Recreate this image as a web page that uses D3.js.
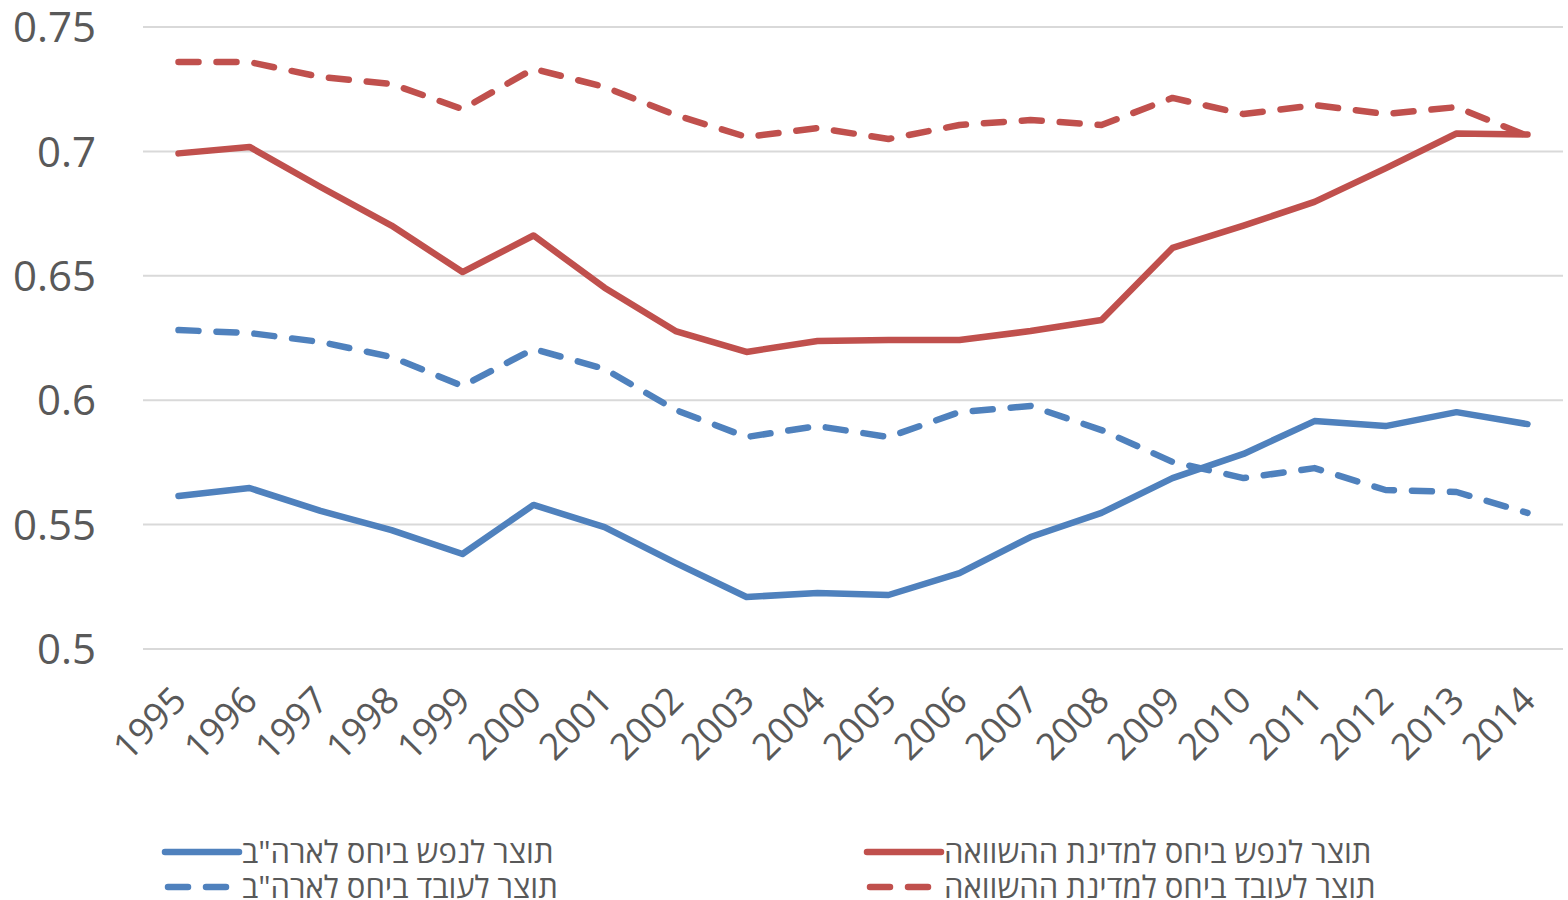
<!DOCTYPE html>
<html>
<head>
<meta charset="UTF-8">
<script src="https://d3js.org/d3.v7.min.js"></script>
<style>
    body { margin: 0; background: #fff; }
    text { font-family: "Open Sans", "DejaVu Sans", sans-serif; fill: #595959; }
</style>
</head>
<body>
<svg id="chart"></svg>
<script>
// DATA
var years = ["1995","1996","1997","1998","1999","2000","2001","2002","2003","2004",
             "2005","2006","2007","2008","2009","2010","2011","2012","2013","2014"];

var perCapitaUS = [0.5613,0.5645,0.5553,0.5476,0.538,0.5577,0.5488,0.5344,0.5207,0.5223,
                   0.5215,0.5303,0.5448,0.5545,0.5685,0.5782,0.5914,0.5894,0.595,0.5902];
var perWorkerUS = [0.628,0.6268,0.6232,0.6172,0.6055,0.6204,0.6124,0.5959,0.585,0.5894,
                   0.585,0.595,0.5975,0.5878,0.575,0.5685,0.5725,0.5637,0.5629,0.5545];
var perCapitaCmp = [0.699,0.7016,0.6855,0.670,0.6513,0.666,0.645,0.6276,0.6192,0.6236,
                    0.624,0.624,0.6276,0.632,0.661,0.670,0.6795,0.693,0.707,0.7066];
var perWorkerCmp = [0.7357,0.7357,0.7297,0.7269,0.7168,0.733,0.7257,0.7144,0.7056,0.7092,
                    0.7048,0.7104,0.7124,0.7104,0.7213,0.7148,0.7184,0.7148,0.7176,0.706];

var yTicks = [0.5, 0.55, 0.6, 0.65, 0.7, 0.75];

var series = [
    {name: "תוצר לנפש ביחס לארה\"ב",            values: perCapitaUS,  color: "#4F81BD", dashed: false},
    {name: "תוצר לנפש ביחס למדינת ההשוואה",     values: perCapitaCmp, color: "#C0504D", dashed: false},
    {name: "תוצר לעובד ביחס לארה\"ב",           values: perWorkerUS,  color: "#4F81BD", dashed: true},
    {name: "תוצר לעובד ביחס למדינת ההשוואה",    values: perWorkerCmp, color: "#C0504D", dashed: true}
];

// LAYOUT
var width = 1568, height = 900;
var plotLeft = 143, plotRight = 1563, plotTop = 26.5, plotBottom = 648.5;
var dash = "20 18";

var svg = d3.select("#chart")
            .attr("width", width)
            .attr("height", height);

var x = d3.scaleBand()
          .domain(years)
          .range([plotLeft, plotRight]);

var y = d3.scaleLinear()
          .domain([0.5, 0.75])
          .range([plotBottom, plotTop]);

// gridlines + y labels
var yAxis = svg.append("g")
               .attr("transform", `translate(${plotLeft},0)`)
               .call(d3.axisLeft(y)
                        .tickValues(yTicks)
                        .tickSize(-(plotRight - plotLeft))
                        .tickPadding(47)
                        .tickFormat(d => String(+d.toFixed(2))));
yAxis.select(".domain").remove();
yAxis.selectAll("line").attr("stroke", "#d9d9d9").attr("stroke-width", 2);
yAxis.selectAll("text")
     .style("font-size", "42px")
     .attr("fill", "#595959")
     .attr("dy", "0.36em");

// x labels, rotated
var xAxis = svg.append("g")
               .attr("transform", `translate(0,${plotBottom})`)
               .call(d3.axisBottom(x).tickSize(0).tickPadding(0));
xAxis.select(".domain").remove();
xAxis.selectAll("text")
     .style("font-size", "37px")
     .attr("fill", "#595959")
     .attr("text-anchor", "end")
     .attr("dy", null)
     .attr("y", 0)
     .attr("transform", "translate(10,54) rotate(-45)");

// lines
var line = d3.line()
             .x((d, i) => x(years[i]) + x.bandwidth() / 2)
             .y(d => y(d));

var drawOrder = [series[1], series[0], series[2], series[3]];
svg.append("g")
   .selectAll("path")
   .data(drawOrder)
   .enter().append("path")
   .attr("d", d => line(d.values))
   .attr("fill", "none")
   .attr("stroke", d => d.color)
   .attr("stroke-width", 6.5)
   .attr("stroke-linejoin", "round")
   .attr("stroke-linecap", "round")
   .attr("stroke-dasharray", d => d.dashed ? dash : null);

// legend
var legendX = [165, 867];
var legendY = [852, 887];
var legend = svg.append("g")
                .selectAll("g")
                .data(series)
                .enter().append("g")
                .attr("transform", (d, i) => `translate(${legendX[i % 2]},${legendY[Math.floor(i / 2)]})`);

legend.append("line")
      .attr("x1", d => d.dashed ? 3 : 0)
      .attr("x2", d => d.dashed ? 61 : 74)
      .attr("y1", 0).attr("y2", 0)
      .attr("stroke", d => d.color)
      .attr("stroke-width", 6.5)
      .attr("stroke-linecap", "round")
      .attr("stroke-dasharray", d => d.dashed ? dash : null);

legend.append("text")
      .attr("x", 77)
      .attr("y", 0)
      .attr("dy", "0.35em")
      .style("font-size", "31px")
      .text(d => d.name);
</script>
</body>
</html>
